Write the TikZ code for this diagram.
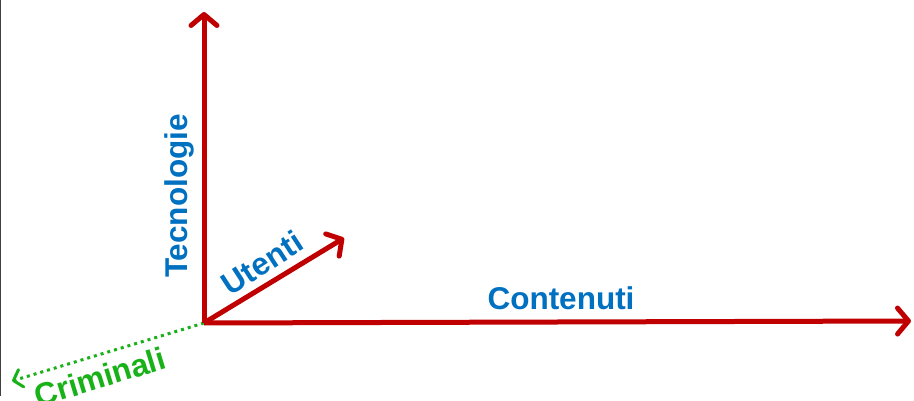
\documentclass[tikz,border=0pt]{standalone}
\usepackage{fontspec}
\setmainfont{Liberation Sans}
\usetikzlibrary{arrows.meta}
\definecolor{axred}{RGB}{192,0,0}
\definecolor{axblue}{RGB}{0,112,192}
\definecolor{axgreen}{RGB}{24,178,24}
\tikzset{
  axis/.style={draw=axred, line width=5pt, -{Straight Barb[length=11pt,width=26pt,line width=5pt,round]}},
  crim/.style={draw=axgreen, line width=3pt, dash pattern=on 3pt off 4pt, -{Straight Barb[length=8pt,width=18pt,line width=3pt,round]}},
  lbl/.style={font=\bfseries\fontsize{31.5}{34}\selectfont, text=axblue, inner sep=0pt},
  glbl/.style={font=\bfseries\fontsize{31.5}{34}\selectfont, text=axgreen, inner sep=0pt}
}
\begin{document}
\begin{tikzpicture}[x=1pt,y=-1pt]
\useasboundingbox (0,0) rectangle (914,401);
\fill[white] (0,0) rectangle (914,401);
\draw[black!75, line width=1pt] (0.5,0) -- (0.5,396);
\coordinate (O) at (204,323);
\coordinate (T) at (204,12);
\coordinate (C) at (911,321);
\coordinate (U) at (344,238);
\coordinate (K) at (12,381);
\draw[crim] (O) -- (K);
\draw[axis] (O) -- (T);
\draw[axis] (O) -- (C);
\draw[axis] (O) -- (U);
\node[lbl, rotate=90] (tec) at (179,196) {Tecnologie};
\node[lbl] (con) at (561,298) {Contenuti};
\node[lbl, rotate=33] (ute) at (262,263) {Utenti};
\node[glbl, rotate=17] (cri) at (100,377) {Criminali};
\end{tikzpicture}
\end{document}
